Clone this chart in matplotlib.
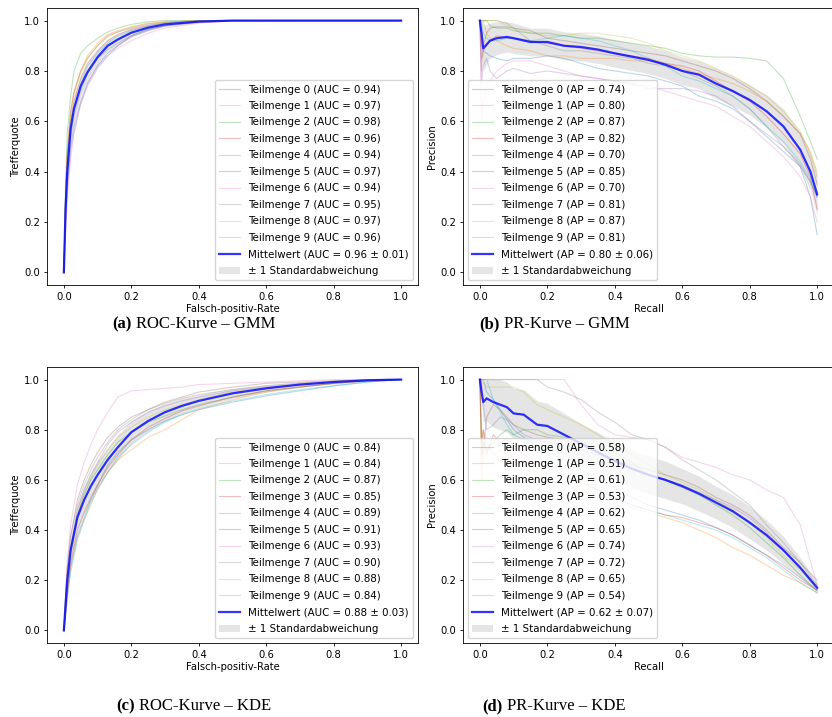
import numpy as np
import matplotlib
matplotlib.use('Agg')
import matplotlib.pyplot as plt

# ---- ROC GMM ----
roc_gmm_fpr = [0, 0.005, 0.01, 0.02, 0.03, 0.05, 0.07, 0.1, 0.13, 0.16, 0.2, 0.25, 0.3, 0.4, 0.5, 0.7, 1.0]
roc_gmm_tpr = [
    [0, 0.2, 0.33, 0.5, 0.58, 0.68, 0.75, 0.82, 0.87, 0.9, 0.94, 0.965, 0.98, 0.995, 1, 1, 1],
    [0, 0.3, 0.48, 0.63, 0.71, 0.8, 0.86, 0.91, 0.945, 0.96, 0.975, 0.99, 0.995, 1, 1, 1, 1],
    [0, 0.35, 0.55, 0.7, 0.8, 0.87, 0.9, 0.93, 0.955, 0.97, 0.985, 0.995, 1, 1, 1, 1, 1],
    [0, 0.28, 0.45, 0.6, 0.68, 0.77, 0.83, 0.88, 0.92, 0.945, 0.965, 0.98, 0.99, 0.998, 1, 1, 1],
    [0, 0.2, 0.33, 0.48, 0.56, 0.67, 0.74, 0.81, 0.86, 0.9, 0.935, 0.96, 0.978, 0.993, 1, 1, 1],
    [0, 0.3, 0.47, 0.64, 0.72, 0.8, 0.85, 0.9, 0.94, 0.955, 0.97, 0.985, 0.993, 1, 1, 1, 1],
    [0, 0.15, 0.28, 0.45, 0.55, 0.67, 0.75, 0.82, 0.86, 0.89, 0.92, 0.95, 0.97, 0.99, 0.998, 1, 1],
    [0, 0.22, 0.37, 0.54, 0.62, 0.72, 0.79, 0.85, 0.885, 0.91, 0.94, 0.965, 0.98, 0.995, 1, 1, 1],
    [0, 0.3, 0.47, 0.62, 0.71, 0.79, 0.85, 0.9, 0.935, 0.955, 0.975, 0.988, 0.995, 1, 1, 1, 1],
    [0, 0.25, 0.4, 0.57, 0.65, 0.75, 0.82, 0.87, 0.91, 0.94, 0.96, 0.978, 0.99, 0.998, 1, 1, 1],
]
roc_gmm_mean = [0, 0.25, 0.4, 0.57, 0.65, 0.74, 0.795, 0.855, 0.9, 0.925, 0.952, 0.972, 0.985, 0.996, 1, 1, 1]
roc_gmm_std = [0, 0.05, 0.05, 0.05, 0.05, 0.04, 0.035, 0.03, 0.025, 0.02, 0.016, 0.012, 0.008, 0.004, 0.001, 0, 0]
roc_gmm_auc = ['0.94', '0.97', '0.98', '0.96', '0.94', '0.97', '0.94', '0.95', '0.97', '0.96']
roc_gmm_mean_label = 'Mittelwert (AUC = 0.96 ± 0.01)'

# ---- PR GMM ----
pr_gmm_rec = [0, 0.005, 0.01, 0.02, 0.03, 0.05, 0.08, 0.1, 0.15, 0.2, 0.25, 0.3, 0.35, 0.4, 0.45,
              0.5, 0.55, 0.6, 0.65, 0.7, 0.75, 0.8, 0.85, 0.9, 0.95, 0.98, 1.0]
pr_gmm_prec = [
    [1, 0.9, 0.88, 0.87, 0.86, 0.85, 0.84, 0.85, 0.85, 0.86, 0.85, 0.83, 0.81, 0.8, 0.79, 0.78, 0.76, 0.74, 0.7, 0.68, 0.65, 0.6, 0.54, 0.48, 0.42, 0.3, 0.15],
    [1, 1, 1, 0.95, 0.93, 0.92, 0.9, 0.89, 0.88, 0.86, 0.86, 0.85, 0.85, 0.85, 0.84, 0.84, 0.83, 0.81, 0.79, 0.77, 0.75, 0.72, 0.68, 0.62, 0.55, 0.48, 0.4],
    [1, 1, 1, 1, 0.98, 0.97, 0.97, 0.96, 0.95, 0.95, 0.94, 0.93, 0.93, 0.92, 0.91, 0.9, 0.89, 0.87, 0.86, 0.855, 0.855, 0.85, 0.84, 0.77, 0.62, 0.52, 0.45],
    [1, 0.85, 0.88, 0.9, 0.92, 0.94, 0.93, 0.93, 0.92, 0.91, 0.9, 0.89, 0.88, 0.87, 0.86, 0.85, 0.83, 0.82, 0.8, 0.76, 0.72, 0.68, 0.62, 0.55, 0.47, 0.38, 0.25],
    [1, 0.75, 0.82, 0.85, 0.8, 0.77, 0.8, 0.81, 0.79, 0.8, 0.79, 0.78, 0.77, 0.76, 0.75, 0.73, 0.73, 0.73, 0.72, 0.7, 0.66, 0.6, 0.55, 0.5, 0.43, 0.36, 0.3],
    [1, 0.8, 0.9, 0.95, 0.97, 0.975, 0.975, 0.97, 0.96, 0.93, 0.92, 0.91, 0.9, 0.89, 0.88, 0.87, 0.86, 0.84, 0.82, 0.8, 0.77, 0.73, 0.68, 0.62, 0.55, 0.45, 0.35],
    [1, 0.6, 0.68, 0.74, 0.76, 0.8, 0.83, 0.84, 0.84, 0.82, 0.8, 0.78, 0.77, 0.76, 0.75, 0.74, 0.72, 0.7, 0.68, 0.66, 0.62, 0.58, 0.52, 0.46, 0.38, 0.3, 0.2],
    [1, 1, 1, 1, 1, 1, 0.99, 0.97, 0.92, 0.9, 0.88, 0.88, 0.87, 0.86, 0.85, 0.83, 0.82, 0.8, 0.77, 0.74, 0.7, 0.65, 0.58, 0.5, 0.42, 0.36, 0.3],
    [1, 1, 1, 1, 1, 1, 0.98, 0.97, 0.95, 0.94, 0.94, 0.95, 0.95, 0.94, 0.93, 0.91, 0.88, 0.86, 0.84, 0.81, 0.78, 0.74, 0.7, 0.64, 0.56, 0.47, 0.38],
    [1, 1, 0.95, 0.93, 0.92, 0.92, 0.93, 0.93, 0.92, 0.93, 0.94, 0.93, 0.92, 0.9, 0.88, 0.85, 0.82, 0.78, 0.76, 0.73, 0.7, 0.65, 0.58, 0.52, 0.44, 0.37, 0.3],
]
pr_gmm_mean = [1.0, 0.95, 0.89, 0.905, 0.92, 0.93, 0.935, 0.93, 0.915, 0.915, 0.9, 0.895, 0.885, 0.87, 0.857,
               0.844, 0.825, 0.8, 0.785, 0.75, 0.72, 0.685, 0.64, 0.58, 0.487, 0.4, 0.31]
pr_gmm_std = [0, 0.06, 0.09, 0.08, 0.07, 0.065, 0.06, 0.06, 0.055, 0.055, 0.055, 0.055, 0.055, 0.055, 0.055,
              0.055, 0.055, 0.055, 0.055, 0.06, 0.06, 0.06, 0.065, 0.07, 0.07, 0.075, 0.08]
pr_gmm_ap = ['0.74', '0.80', '0.87', '0.82', '0.70', '0.85', '0.70', '0.81', '0.87', '0.81']
pr_gmm_mean_label = 'Mittelwert (AP = 0.80 ± 0.06)'

# ---- ROC KDE ----
roc_kde_fpr = [0, 0.005, 0.01, 0.02, 0.04, 0.06, 0.08, 0.1, 0.13, 0.16, 0.2, 0.25, 0.3, 0.35, 0.4,
               0.5, 0.6, 0.7, 0.8, 0.9, 1.0]
roc_kde_tpr = [
    [0, 0.07, 0.14, 0.25, 0.38, 0.45, 0.52, 0.58, 0.66, 0.71, 0.76, 0.8, 0.835, 0.86, 0.88, 0.91, 0.935, 0.955, 0.975, 0.99, 1],
    [0, 0.06, 0.13, 0.25, 0.37, 0.44, 0.5, 0.57, 0.63, 0.68, 0.72, 0.77, 0.8, 0.84, 0.88, 0.92, 0.95, 0.97, 0.985, 0.995, 1],
    [0, 0.08, 0.17, 0.3, 0.46, 0.54, 0.6, 0.64, 0.7, 0.75, 0.79, 0.83, 0.855, 0.88, 0.9, 0.93, 0.955, 0.97, 0.985, 0.995, 1],
    [0, 0.07, 0.15, 0.27, 0.4, 0.47, 0.53, 0.58, 0.65, 0.7, 0.76, 0.81, 0.845, 0.875, 0.895, 0.93, 0.955, 0.97, 0.985, 0.995, 1],
    [0, 0.1, 0.2, 0.33, 0.48, 0.56, 0.62, 0.67, 0.74, 0.79, 0.83, 0.87, 0.895, 0.915, 0.93, 0.955, 0.97, 0.98, 0.99, 0.997, 1],
    [0, 0.12, 0.24, 0.37, 0.52, 0.6, 0.66, 0.71, 0.77, 0.81, 0.85, 0.88, 0.91, 0.93, 0.95, 0.97, 0.985, 0.99, 0.995, 1, 1],
    [0, 0.15, 0.28, 0.42, 0.58, 0.67, 0.74, 0.8, 0.87, 0.93, 0.955, 0.96, 0.965, 0.97, 0.98, 0.985, 0.99, 0.995, 1, 1, 1],
    [0, 0.13, 0.25, 0.38, 0.5, 0.58, 0.64, 0.69, 0.75, 0.8, 0.84, 0.88, 0.905, 0.925, 0.94, 0.96, 0.975, 0.985, 0.993, 0.998, 1],
    [0, 0.1, 0.2, 0.32, 0.46, 0.55, 0.61, 0.66, 0.72, 0.77, 0.81, 0.85, 0.88, 0.9, 0.92, 0.95, 0.965, 0.98, 0.99, 0.997, 1],
    [0, 0.06, 0.12, 0.23, 0.36, 0.44, 0.51, 0.56, 0.63, 0.69, 0.74, 0.79, 0.83, 0.86, 0.885, 0.915, 0.94, 0.96, 0.975, 0.99, 1],
]
roc_kde_mean = [0, 0.1, 0.2, 0.32, 0.45, 0.52, 0.575, 0.62, 0.68, 0.73, 0.79, 0.835, 0.87, 0.895, 0.915,
                0.945, 0.965, 0.98, 0.99, 0.997, 1.0]
roc_kde_std = [0, 0.03, 0.04, 0.05, 0.05, 0.055, 0.055, 0.055, 0.05, 0.05, 0.045, 0.04, 0.035, 0.03, 0.025,
               0.02, 0.015, 0.01, 0.008, 0.004, 0]
roc_kde_auc = ['0.84', '0.84', '0.87', '0.85', '0.89', '0.91', '0.93', '0.90', '0.88', '0.84']
roc_kde_mean_label = 'Mittelwert (AUC = 0.88 ± 0.03)'

# ---- PR KDE ----
pr_kde_rec = [0, 0.005, 0.01, 0.02, 0.04, 0.06, 0.08, 0.1, 0.13, 0.17, 0.2, 0.25, 0.3, 0.35, 0.4, 0.45,
              0.5, 0.55, 0.6, 0.65, 0.7, 0.75, 0.8, 0.85, 0.9, 0.95, 1.0]
pr_kde_prec = [
    [1, 1, 1, 0.95, 0.92, 0.88, 0.84, 0.8, 0.77, 0.74, 0.71, 0.68, 0.64, 0.6, 0.57, 0.53, 0.5, 0.48, 0.46, 0.44, 0.41, 0.38, 0.34, 0.3, 0.26, 0.21, 0.16],
    [1, 0.6, 0.8, 0.75, 0.7, 0.72, 0.7, 0.68, 0.66, 0.63, 0.6, 0.58, 0.56, 0.54, 0.52, 0.49, 0.47, 0.45, 0.43, 0.4, 0.37, 0.33, 0.3, 0.26, 0.22, 0.19, 0.15],
    [1, 0.7, 0.75, 0.72, 0.75, 0.78, 0.8, 0.78, 0.8, 0.8, 0.78, 0.77, 0.75, 0.73, 0.71, 0.67, 0.62, 0.6, 0.57, 0.54, 0.5, 0.46, 0.41, 0.35, 0.29, 0.22, 0.16],
    [1, 0.75, 0.8, 0.7, 0.78, 0.75, 0.76, 0.74, 0.7, 0.67, 0.65, 0.62, 0.59, 0.56, 0.53, 0.5, 0.48, 0.46, 0.45, 0.43, 0.41, 0.38, 0.34, 0.3, 0.25, 0.2, 0.16],
    [1, 1, 0.9, 0.8, 0.82, 0.85, 0.84, 0.82, 0.78, 0.76, 0.75, 0.74, 0.72, 0.7, 0.68, 0.65, 0.62, 0.6, 0.58, 0.55, 0.52, 0.49, 0.45, 0.39, 0.32, 0.25, 0.17],
    [1, 0.8, 0.7, 0.85, 0.9, 0.88, 0.85, 0.82, 0.8, 0.78, 0.77, 0.76, 0.74, 0.71, 0.68, 0.66, 0.64, 0.62, 0.6, 0.57, 0.53, 0.5, 0.46, 0.4, 0.33, 0.27, 0.2],
    [1, 1, 1, 1, 1, 1, 1, 1, 1, 1, 1, 1, 0.9, 0.82, 0.78, 0.77, 0.76, 0.73, 0.69, 0.67, 0.65, 0.62, 0.6, 0.56, 0.53, 0.42, 0.18],
    [1, 1, 1, 1, 1, 1, 1, 1, 1, 1, 0.97, 0.95, 0.92, 0.87, 0.83, 0.78, 0.76, 0.73, 0.68, 0.64, 0.6, 0.55, 0.5, 0.42, 0.35, 0.27, 0.18],
    [1, 1, 1, 0.97, 0.97, 0.97, 0.97, 0.97, 0.95, 0.9, 0.88, 0.85, 0.82, 0.78, 0.74, 0.7, 0.66, 0.62, 0.59, 0.56, 0.52, 0.48, 0.43, 0.37, 0.3, 0.24, 0.17],
    [1, 1, 1, 1, 0.92, 0.87, 0.82, 0.78, 0.76, 0.72, 0.68, 0.64, 0.6, 0.56, 0.53, 0.5, 0.48, 0.46, 0.44, 0.42, 0.4, 0.37, 0.33, 0.29, 0.24, 0.19, 0.15],
]
pr_kde_mean = [1.0, 0.95, 0.91, 0.925, 0.91, 0.9, 0.89, 0.865, 0.86, 0.82, 0.815, 0.78, 0.745, 0.71, 0.675, 0.645,
               0.62, 0.6, 0.575, 0.545, 0.51, 0.475, 0.43, 0.38, 0.32, 0.25, 0.17]
pr_kde_std = [0, 0.05, 0.08, 0.09, 0.1, 0.1, 0.1, 0.1, 0.1, 0.095, 0.09, 0.085, 0.08, 0.08, 0.075, 0.075,
              0.075, 0.075, 0.07, 0.07, 0.065, 0.065, 0.065, 0.06, 0.055, 0.04, 0.02]
pr_kde_ap = ['0.58', '0.51', '0.61', '0.53', '0.62', '0.65', '0.74', '0.72', '0.65', '0.54']
pr_kde_mean_label = 'Mittelwert (AP = 0.62 ± 0.07)'

captions = [('(a)', 'ROC-Kurve – GMM'), ('(b)', 'PR-Kurve – GMM'),
            ('(c)', 'ROC-Kurve – KDE'), ('(d)', 'PR-Kurve – KDE')]

W, H = 832, 717
fig = plt.figure(figsize=(W / 100, H / 100), dpi=100)

FS = 7.2
plt.rcParams['xtick.labelsize'] = FS
plt.rcParams['ytick.labelsize'] = FS
plt.rcParams['xtick.major.size'] = 2.5
plt.rcParams['ytick.major.size'] = 2.5
plt.rcParams['xtick.major.width'] = 0.6
plt.rcParams['ytick.major.width'] = 0.6
plt.rcParams['xtick.major.pad'] = 2.5
plt.rcParams['ytick.major.pad'] = 2.5
plt.rcParams['axes.linewidth'] = 0.6


def add_ax(left, top, right, bottom):
    return fig.add_axes([left / W, 1 - bottom / H, (right - left) / W, (bottom - top) / H])


def draw_panel(ax, x, curves, mean, std, values, metric, mean_label, xlabel, ylabel, loc):
    colors = plt.rcParams['axes.prop_cycle'].by_key()['color']
    for i, (ys, v) in enumerate(zip(curves, values)):
        ax.plot(x, ys, color=colors[i % 10], lw=0.8, alpha=0.3,
                label=f'Teilmenge {i} ({metric} = {v})')
    ax.plot(x, mean, color='b', lw=1.6, alpha=0.8, label=mean_label)
    m = np.array(mean)
    s = np.array(std)
    ax.fill_between(x, np.clip(m - s, 0, 1), np.clip(m + s, 0, 1), color='grey', alpha=0.2,
                    lw=0, label='± 1 Standardabweichung')
    ax.set_xlim(-0.05, 1.05)
    ax.set_ylim(-0.05, 1.05)
    ax.set_xlabel(xlabel, fontsize=FS, labelpad=1.5)
    ax.set_ylabel(ylabel, fontsize=FS, labelpad=2.5)
    ax.legend(loc=loc, fontsize=7.4, labelspacing=0.63)


ax_a = add_ax(47, 8, 418, 285)
ax_b = add_ax(463, 8, 834, 285)
ax_c = add_ax(47, 367, 418, 643)
ax_d = add_ax(463, 367, 834, 643)

draw_panel(ax_a, roc_gmm_fpr, roc_gmm_tpr, roc_gmm_mean, roc_gmm_std, roc_gmm_auc, 'AUC',
           roc_gmm_mean_label, 'Falsch-positiv-Rate', 'Trefferquote', 'lower right')
draw_panel(ax_b, pr_gmm_rec, pr_gmm_prec, pr_gmm_mean, pr_gmm_std, pr_gmm_ap, 'AP',
           pr_gmm_mean_label, 'Recall', 'Precision', 'lower left')
draw_panel(ax_c, roc_kde_fpr, roc_kde_tpr, roc_kde_mean, roc_kde_std, roc_kde_auc, 'AUC',
           roc_kde_mean_label, 'Falsch-positiv-Rate', 'Trefferquote', 'lower right')
draw_panel(ax_d, pr_kde_rec, pr_kde_prec, pr_kde_mean, pr_kde_std, pr_kde_ap, 'AP',
           pr_kde_mean_label, 'Recall', 'Precision', 'lower left')

# captions below each panel
cap_pos = [(112, 324), (479, 324), (116, 706), (482, 706)]
for (tag, text), (cx, cy) in zip(captions, cap_pos):
    t = fig.text(cx / W, 1 - cy / H, tag, fontsize=12, fontweight='bold',
                 family='Liberation Serif', ha='left', va='center')
    ax_a.annotate(text, xy=(1, 0.5), xycoords=t, xytext=(3.5, 0), textcoords='offset points',
                  fontsize=12, family='Liberation Serif', ha='left', va='center',
                  annotation_clip=False)

fig.savefig('out.png', dpi=100)
